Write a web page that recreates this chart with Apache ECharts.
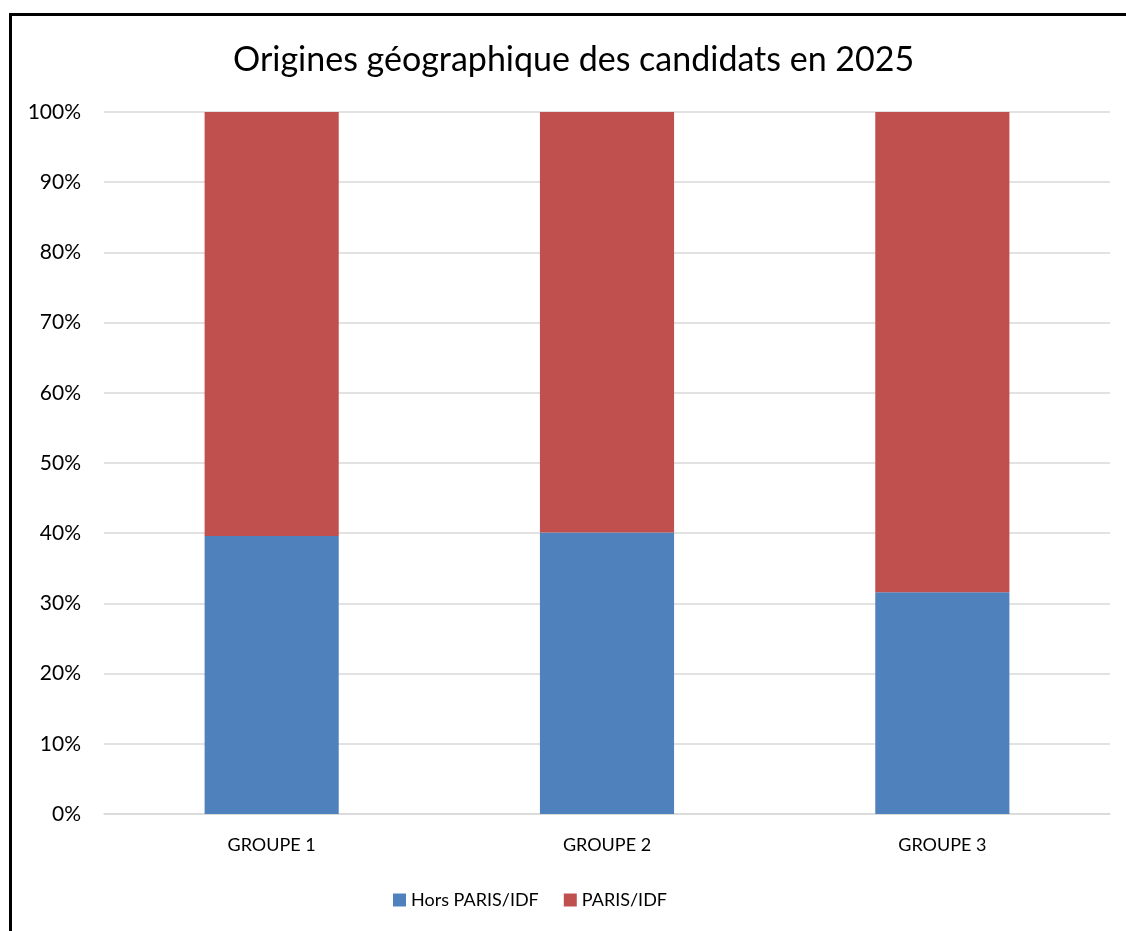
<!DOCTYPE html>
<html>
<head>
<meta charset="utf-8">
<script src="https://cdn.jsdelivr.net/npm/echarts@6/dist/echarts.min.js"></script>
<style>
  html, body { margin: 0; padding: 0; background: #fff; }
  #cadre { position: absolute; left: 9px; top: 13px; width: 1117px; height: 918px;
           border-left: 3px solid #000; border-top: 3px solid #000; box-sizing: border-box; }
  #chart { position: absolute; left: 0; top: 0; width: 1126px; height: 931px; }
</style>
</head>
<body>
<div id="cadre"></div>
<div id="chart"></div>
<script>
// données (en %)
const groupes = ['GROUPE 1', 'GROUPE 2', 'GROUPE 3'];
const horsParis = [39.6, 40.1, 31.6];
const paris = [60.4, 59.9, 68.4];
const nomsSeries = ['Hors PARIS/IDF', 'PARIS/IDF'];

const police = 'Lato';

var myChart = echarts.init(document.getElementById('chart'));
var option = {
    animation: false,
    title: {
        text: 'Origines géographique des candidats en 2025',
        left: 228,
        top: 38,
        textStyle: { fontFamily: police, fontSize: 34, fontWeight: 'normal', color: '#000' }
    },
    legend: {
        bottom: 17,
        left: 388,
        icon: 'rect',
        itemWidth: 13,
        itemHeight: 13,
        itemGap: 25,
        textStyle: { fontFamily: police, fontSize: 18, color: '#000' },
        data: nomsSeries
    },
    grid: { left: 104, right: 16, top: 112, bottom: 117 },
    xAxis: {
        type: 'category',
        data: groupes,
        axisLine: { lineStyle: { color: '#d9d9d9', width: 1.5 } },
        axisTick: { show: false },
        axisLabel: { fontFamily: police, fontSize: 18, color: '#000', margin: 22 }
    },
    yAxis: {
        type: 'value',
        min: 0,
        max: 100,
        interval: 10,
        axisLine: { show: false },
        axisTick: { show: false },
        splitLine: { lineStyle: { color: '#d9d9d9', width: 1.5 } },
        axisLabel: { fontFamily: police, fontSize: 21, color: '#000', margin: 23, formatter: '{value}%' }
    },
    series: [
        {
            name: nomsSeries[0],
            type: 'bar',
            stack: 'total',
            barWidth: '40%',
            itemStyle: { color: '#4f81bd' },
            data: horsParis
        },
        {
            name: nomsSeries[1],
            type: 'bar',
            stack: 'total',
            barWidth: '40%',
            itemStyle: { color: '#c0504d' },
            data: paris
        }
    ]
};
myChart.setOption(option);
</script>
</body>
</html>
